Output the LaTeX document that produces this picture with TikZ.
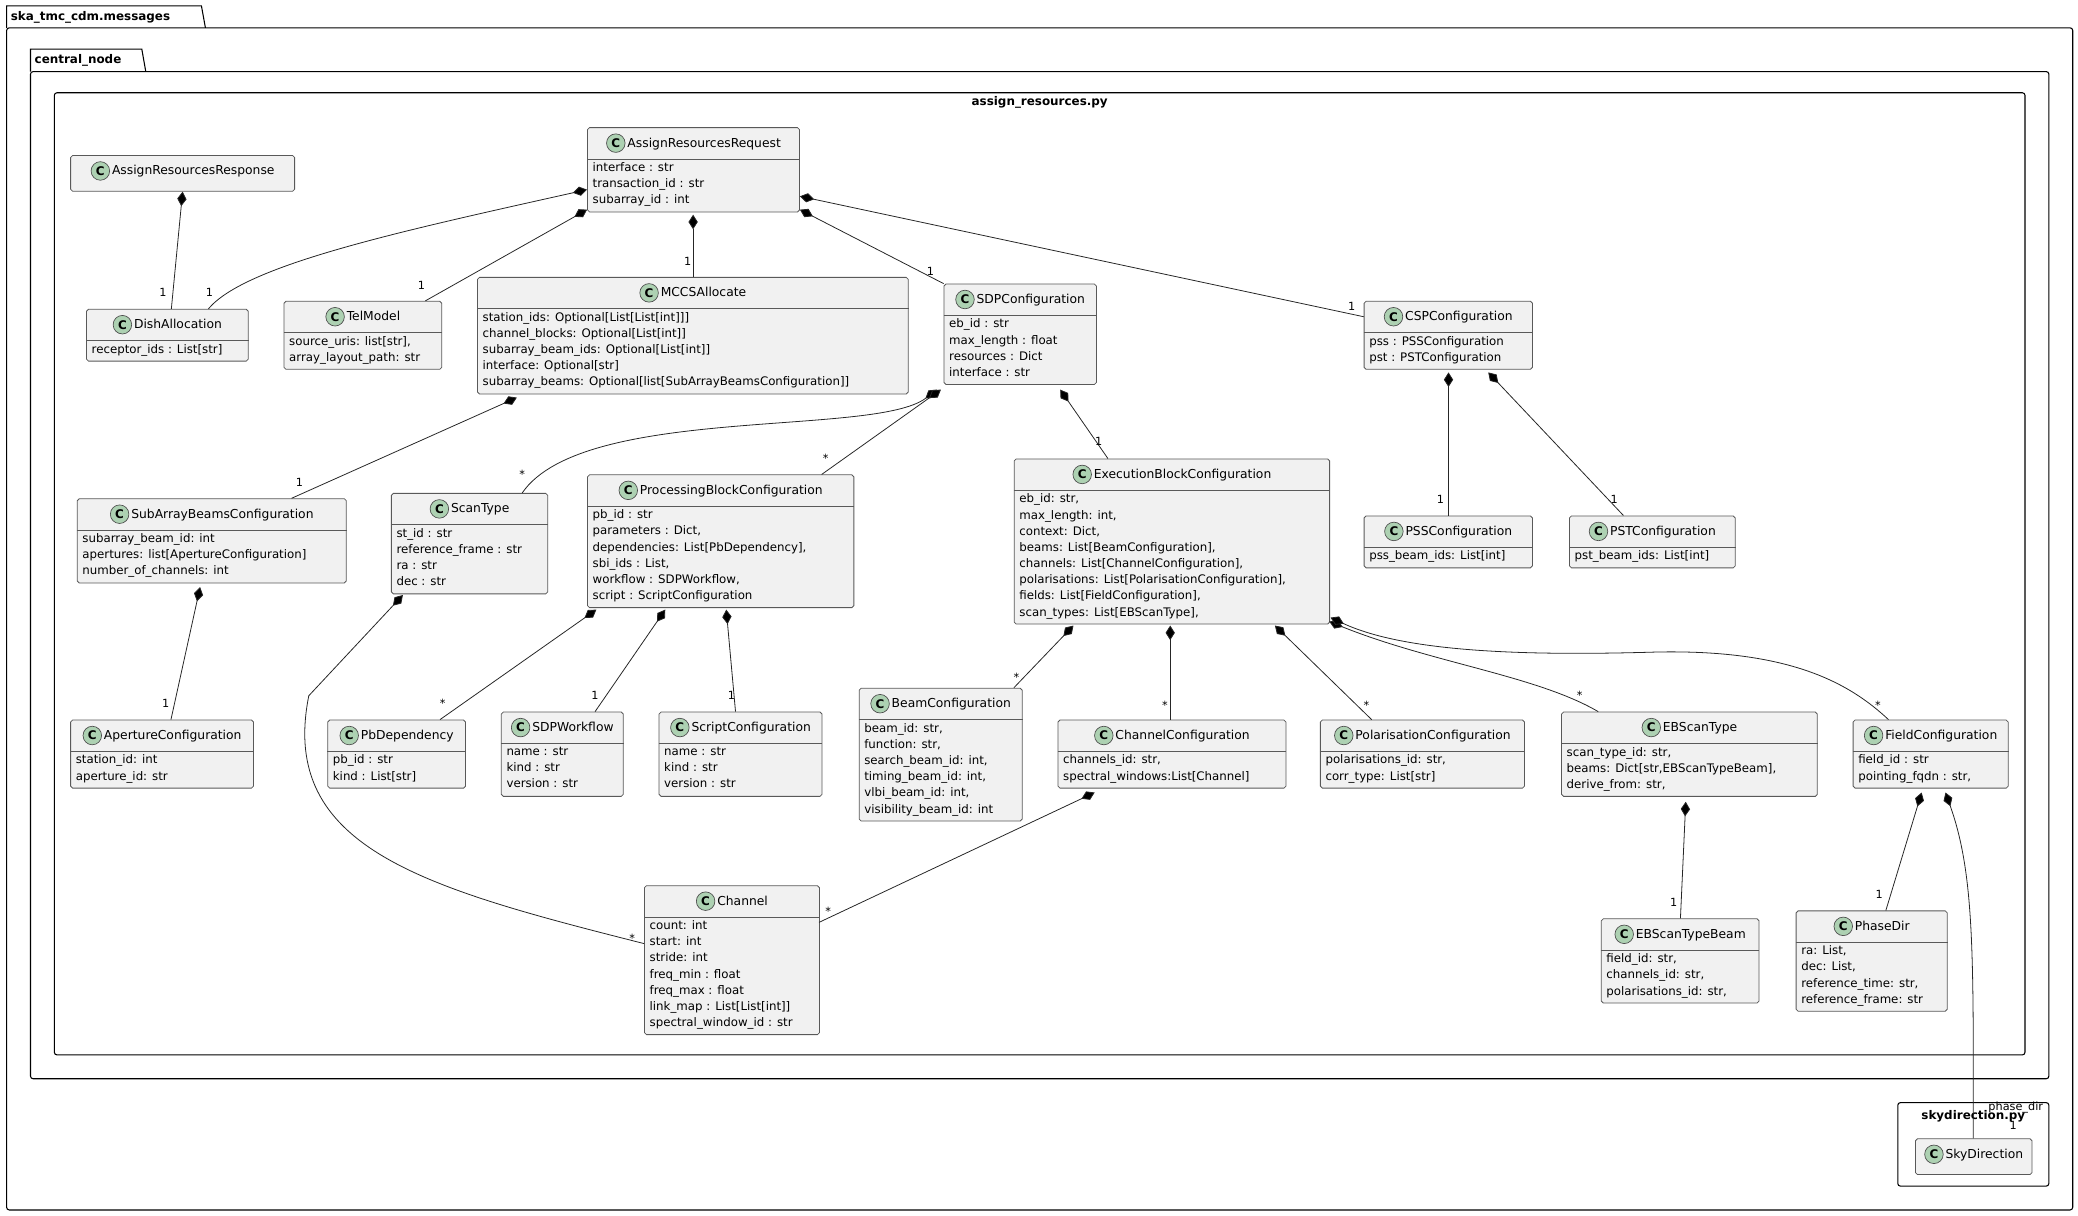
\documentclass[tikz,border=0pt]{standalone}
\usepackage{fontspec}
\setmainfont{DejaVu Sans}
\usetikzlibrary{arrows.meta,calc}
\definecolor{cg}{HTML}{ADD1B2}
\definecolor{bf}{HTML}{F1F1F1}
\tikzset{
 box/.style={draw=black!65,fill=bf,rounded corners=1.5pt,inner sep=0,line width=0.6pt},
 comp/.style={draw=black!85,line width=0.6pt,{Diamond[length=11pt,width=7pt,fill=black]}-},
 lab/.style={font=\fontsize{8.5}{10}\selectfont,inner sep=0},
 attr/.style={anchor=north west,align=left,inner sep=0,font=\fontsize{8.9}{12.2}\selectfont},
 ttl/.style={inner sep=0,font=\fontsize{9.3}{11}\selectfont},
 frm/.style={draw=black,line width=0.8pt},
 ftitle/.style={font=\bfseries\fontsize{9}{11}\selectfont,inner sep=0}
}
\newcommand\circC{\tikz[baseline=-3pt]\node[circle,fill=cg,draw=black!70,line width=0.5pt,inner sep=0,minimum size=14pt,font=\bfseries\fontsize{9}{9}\selectfont]{C};}
% id x y w n title attrs
\newcommand\cls[7]{%
 \node[box,minimum width=#4,minimum height={24+#5*12.2+3},anchor=north west] (#1) at (#2,#3) {};
 \node[ttl] at ([yshift=-12pt]#1.north) {\circC\,#6};
 \ifnum#5>0
 \draw[black!65,line width=0.6pt] ([yshift=-24pt]#1.north west) -- ([yshift=-24pt]#1.north east);
 \node[attr] at ([xshift=4pt,yshift=-26.5pt]#1.north west) {#7};
 \fi}
\begin{document}
\begin{tikzpicture}[x=1pt,y=-1pt]
\useasboundingbox (0,0) rectangle (1568,917.5);
% frames
\draw[frm] (5,21) -- (5,4.5) -- (152,4.5) -- (155,21);
\draw[frm,rounded corners=2pt] (5,21) rectangle (1564,913);
\node[ftitle,anchor=west] at (8,13) {ska\_tmc\_cdm.messages};
\draw[frm] (23,54) -- (23,37) -- (107,37) -- (110,54);
\draw[frm,rounded corners=2pt] (23,54) rectangle (1546,814);
\node[ftitle,anchor=west] at (26,45.5) {central\_node};
\draw[frm,rounded corners=2pt] (41,70) rectangle (1528,796);
\node[ftitle] at (784.5,77) {assign\_resources.py};
\draw[frm,rounded corners=2pt] (1432,832) rectangle (1546,895);
\node[ftitle] at (1489,842) {skydirection.py};

% classes
\cls{resp}{53}{117}{169}{0}{AssignResourcesResponse}{}
\cls{req}{443}{96}{160}{3}{AssignResourcesRequest}{interface : str\\transaction\_id : str\\subarray\_id : int}
\cls{dish}{65}{233}{122}{1}{DishAllocation}{receptor\_ids : List[str]}
\cls{tel}{214}{227}{119}{2}{TelModel}{source\_uris: list[str],\\array\_layout\_path: str}
\cls{mccs}{360}{209}{325}{5}{MCCSAllocate}{station\_ids: Optional[List[List[int]]]\\channel\_blocks: Optional[List[int]]\\subarray\_beam\_ids: Optional[List[int]]\\interface: Optional[str]\\subarray\_beams: Optional[list[SubArrayBeamsConfiguration]]}
\cls{sdp}{712}{214}{115}{4}{SDPConfiguration}{eb\_id : str\\max\_length : float\\resources : Dict\\interface : str}
\cls{csp}{1029}{227}{127}{2}{CSPConfiguration}{pss : PSSConfiguration\\pst : PSTConfiguration}
\cls{sab}{58}{376}{203}{3}{SubArrayBeamsConfiguration}{subarray\_beam\_id: int\\apertures: list[ApertureConfiguration]\\number\_of\_channels: int}
\cls{scan}{295}{372}{118}{4}{ScanType}{st\_id : str\\reference\_frame : str\\ra : str\\dec : str}
\cls{pbc}{443}{358}{201}{6}{ProcessingBlockConfiguration}{pb\_id : str\\parameters : Dict,\\dependencies: List[PbDependency],\\sbi\_ids : List,\\workflow : SDPWorkflow,\\script : ScriptConfiguration}
\cls{ebc}{765}{346}{238}{8}{ExecutionBlockConfiguration}{eb\_id: str,\\max\_length: int,\\context: Dict,\\beams: List[BeamConfiguration],\\channels: List[ChannelConfiguration],\\polarisations: List[PolarisationConfiguration],\\fields: List[FieldConfiguration],\\scan\_types: List[EBScanType],}
\cls{pss}{1029}{389}{127}{1}{PSSConfiguration}{pss\_beam\_ids: List[int]}
\cls{pst}{1184}{389}{125}{1}{PSTConfiguration}{pst\_beam\_ids: List[int]}
\cls{ap}{53}{543}{138}{2}{ApertureConfiguration}{station\_id: int\\aperture\_id: str}
\cls{pbd}{247}{543}{104}{2}{PbDependency}{pb\_id : str\\kind : List[str]}
\cls{wf}{378}{537}{92}{3}{SDPWorkflow}{name : str\\kind : str\\version : str}
\cls{scr}{497}{537}{123}{3}{ScriptConfiguration}{name : str\\kind : str\\version : str}
\cls{beam}{648}{519}{123}{6}{BeamConfiguration}{beam\_id: str,\\function: str,\\search\_beam\_id: int,\\timing\_beam\_id: int,\\vlbi\_beam\_id: int,\\visibility\_beam\_id: int}
\cls{chc}{798}{543}{172}{2}{ChannelConfiguration}{channels\_id: str,\\spectral\_windows:List[Channel]}
\cls{pol}{996}{543}{154}{2}{PolarisationConfiguration}{polarisations\_id: str,\\corr\_type: List[str]}
\cls{ebs}{1178}{537}{193}{3}{EBScanType}{scan\_type\_id: str,\\beams: Dict[str,EBScanTypeBeam],\\derive\_from: str,}
\cls{fld}{1398}{543}{117}{2}{FieldConfiguration}{field\_id : str\\pointing\_fqdn : str,}
\cls{ch}{486}{668}{132}{7}{Channel}{count: int\\start: int\\stride: int\\freq\_min : float\\freq\_max : float\\link\_map : List[List[int]]\\spectral\_window\_id : str}
\cls{ebb}{1208}{693}{119}{3}{EBScanTypeBeam}{field\_id: str,\\channels\_id: str,\\polarisations\_id: str,}
\cls{pd}{1355}{687}{114}{4}{PhaseDir}{ra: List,\\dec: List,\\reference\_time: str,\\reference\_frame: str}
\cls{sky}{1445}{859}{88}{0}{SkyDirection}{}

% connectors
\draw[comp] (resp.south) -- ([xshift=3pt]dish.north);
\node[lab] at (123,221) {1};
\draw[comp] ([yshift=-15pt]req.west) .. controls (300,175) and (185,200) .. ([xshift=31pt]dish.north);
\node[lab] at (158,221) {1};
\draw[comp] ([yshift=2pt]req.south west) -- (321,227);
\node[lab] at (318,215) {1};
\draw[comp] (523,162) -- (523,209);
\node[lab] at (519,197) {1};
\draw[comp] ([yshift=2pt]req.south east) -- (sdp.north west);
\node[lab] at (702,205) {1};
\draw[comp] ([yshift=-20pt]req.east) -- (1029,239);
\node[lab] at (1020,231) {1};
\draw[comp] (390,300) -- (220,376);
\node[lab] at (226,364) {1};
\draw[comp] (707,294) .. controls (660,330) and (440,305) .. (394,372);
\node[lab] at (394,358) {*};
\draw[comp] (710,294) -- (620,358);
\node[lab] at (623,346) {*};
\draw[comp] (800,294) -- (836,346);
\node[lab] at (829,333) {1};
\draw[comp] (1093,281) -- (1093,389);
\node[lab] at (1087,377) {1};
\draw[comp] (1123,281) -- (1225,389);
\node[lab] at (1218,377) {1};
\draw[comp] (151,443) -- (129,543);
\node[lab] at (125,531) {1};
\draw[comp] (304,449) -- (233,525) .. controls (210,640) and (320,670) .. (486,712);
\node[lab] at (477,708) {*};
\draw[comp] (450,460) -- (332,543);
\node[lab] at (334,531) {*};
\draw[comp] (502,460) -- (449,537);
\node[lab] at (449,525) {1};
\draw[comp] (548,460) -- (555,537);
\node[lab] at (552,525) {1};
\draw[comp] (810,472) -- (765,519);
\node[lab] at (767,511) {*};
\draw[comp] (883,472) -- (883,543);
\node[lab] at (879,532) {*};
\draw[comp] (962,472) -- (1035,543);
\node[lab] at (1031,532) {*};
\draw[comp] (1003,469) .. controls (1080,500) and (1160,510) .. (1206,537);
\node[lab] at (1192,525) {*};
\draw[comp] (1004,466) .. controls (1060,492) and (1150,495) .. (1250,492) .. controls (1350,490) and (1395,515) .. (1425,543);
\node[lab] at (1417,532) {*};
\draw[comp] (826,598) -- (618,696);
\node[lab] at (625,688) {*};
\draw[comp] (1272,605) -- (1268,693);
\node[lab] at (1263,681) {1};
\draw[comp] (1450,598) -- (1423,687);
\node[lab] at (1418,675) {1};
\draw[comp] (1468,598) .. controls (1490,660) and (1489,720) .. (1489,859);
\node[lab] at (1521,836) {phase\_dir};
\node[lab] at (1519,849) {1};
\end{tikzpicture}
\end{document}
